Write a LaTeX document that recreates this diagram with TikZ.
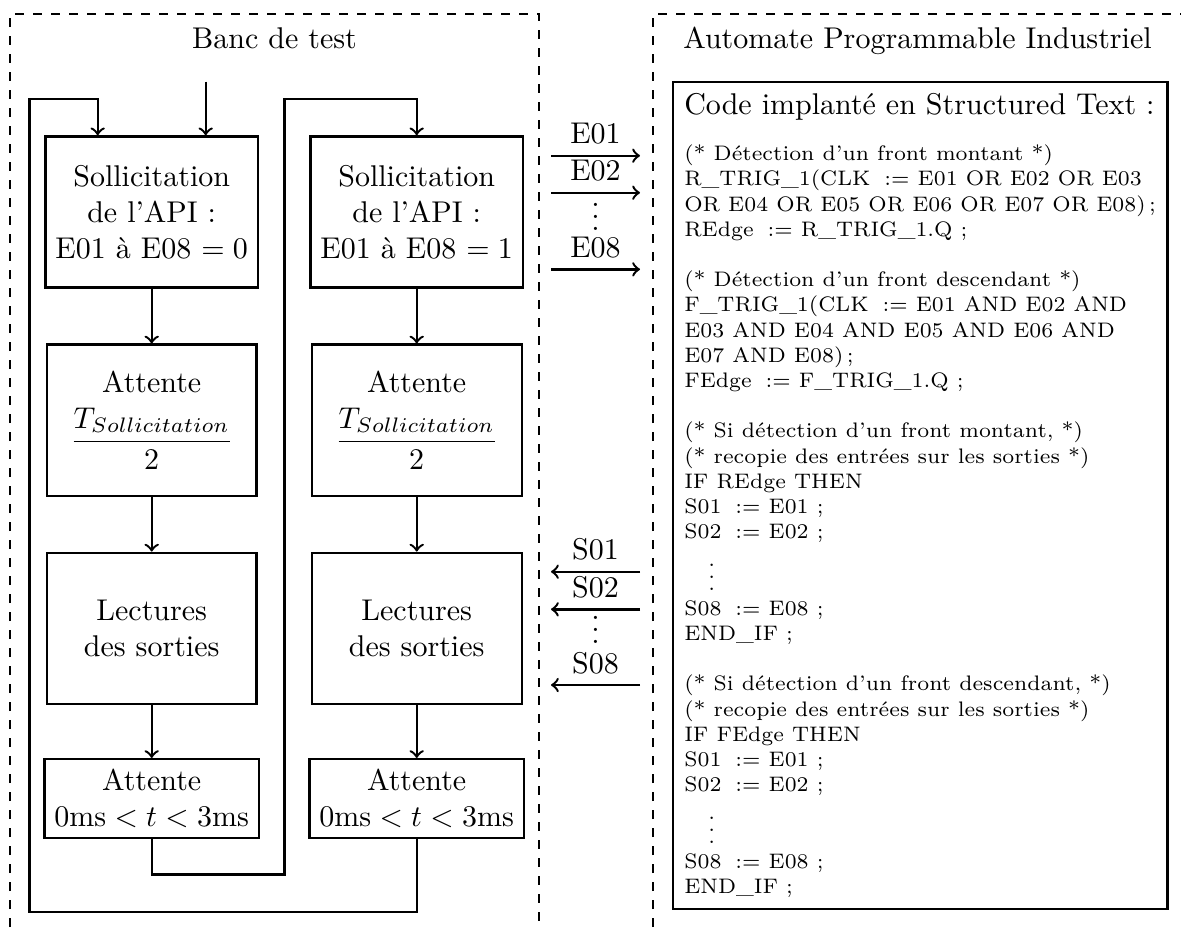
\documentclass[tikz,border=0pt]{standalone}
\usepackage{tikz}
\usepackage{amsmath}
\newcommand{\pointsv}{\vbox{\baselineskip4pt\lineskiplimit0pt\hbox{.}\hbox{.}\hbox{.}}}

\begin{document}
\begin{tikzpicture}[x=1.1715mm, y=1.1715mm,
    boite/.style={draw, thick, minimum width=24.6mm, minimum height=17.7mm, align=center},
    fleche/.style={->, thick},
    cadre/.style={dashed, semithick},
    code/.style={draw, thick, inner sep=3.8pt, align=left, font=\fontsize{7}{8.4}\selectfont}]
      \useasboundingbox (0,0) rectangle (118.1,-92.7);
      % cadres en pointilles
      \draw[cadre] (1.0,-92.7) -- (1.0,-1.4) -- (53.9,-1.4) -- (53.9,-92.7);
      \draw[cadre] (65.3,-92.7) -- (65.3,-1.4) -- (118.1,-1.4);
      \node[anchor=base] (titreBanc) at (27.45,-4.8) {Banc de test};
      \node[anchor=base] (titreAPI) at (91.75,-4.8) {Automate Programmable Industriel};
      % colonne de gauche
      \node[boite] (b1) at (15.17,-21.2) {Sollicitation\\de l'API :\\E01 à E08 $= 0$};
      \node[boite] (b2) at (15.17,-42.02) {Attente\\[4pt]$\dfrac{T_{Sollicitation}}{2}$};
      \node[boite] (b3) at (15.17,-62.83) {Lectures\\des sorties};
      \node[boite, minimum height=9.18mm] (b4) at (15.17,-79.85) {Attente\\$0\text{ms} < t < 3\text{ms}$};
      % colonne de droite
      \node[boite] (b5) at (41.67,-21.2) {Sollicitation\\de l'API :\\E01 à E08 $= 1$};
      \node[boite] (b6) at (41.67,-42.02) {Attente\\[4pt]$\dfrac{T_{Sollicitation}}{2}$};
      \node[boite] (b7) at (41.67,-62.83) {Lectures\\des sorties};
      \node[boite, minimum height=9.18mm] (b8) at (41.67,-79.85) {Attente\\$0\text{ms} < t < 3\text{ms}$};
      \draw[fleche] (b1) -- (b2);
      \draw[fleche] (b2) -- (b3);
      \draw[fleche] (b3) -- (b4);
      \draw[fleche] (b5) -- (b6);
      \draw[fleche] (b6) -- (b7);
      \draw[fleche] (b7) -- (b8);
      % bouclages
      \coordinate (depart) at (20.57,-8.17);
      \coordinate (coinA) at (2.93,-91.2);
      \coordinate (coinB) at (9.77,-9.9);
      \coordinate (coinC) at (28.43,-87.43);
      \draw[fleche] (depart) -- (depart |- b1.north);
      \draw[fleche] (b8.south) |- (coinA) |- (coinB) -- (coinB |- b1.north);
      \draw[fleche] (b4.south) |- (coinC) |- (b5.north |- coinB) -- (b5.north);
      % entrees et sorties
      \coordinate (gE01) at (55.1,-15.57);
      \coordinate (dE01) at (64.0,-15.57);
      \coordinate (gE02) at (55.1,-19.27);
      \coordinate (dE02) at (64.0,-19.27);
      \coordinate (gE08) at (55.1,-26.93);
      \coordinate (dE08) at (64.0,-26.93);
      \draw[fleche] (gE01) -- node[above] (lE01) {E01} (dE01);
      \draw[fleche] (gE02) -- node[above] (lE02) {E02} (dE02);
      \draw[fleche] (gE08) -- node[above] (lE08) {E08} (dE08);
      \node[anchor=base, inner sep=0pt] (pointsE) at (59.55,-23.0) {\pointsv};
      \coordinate (gS01) at (55.1,-57.17);
      \coordinate (dS01) at (64.0,-57.17);
      \coordinate (gS02) at (55.1,-60.93);
      \coordinate (dS02) at (64.0,-60.93);
      \coordinate (gS08) at (55.1,-68.5);
      \coordinate (dS08) at (64.0,-68.5);
      \draw[fleche] (dS01) -- node[above] (lS01) {S01} (gS01);
      \draw[fleche] (dS02) -- node[above] (lS02) {S02} (gS02);
      \draw[fleche] (dS08) -- node[above] (lS08) {S08} (gS08);
      \node[anchor=base, inner sep=0pt] (pointsS) at (59.55,-64.35) {\pointsv};
      % code de l'automate
      \node[code, anchor=north west] (ST) at (67.17,-8.07) {%
        {\normalsize Code implanté en Structured Text :}\\[7pt]
        (* Détection d'un front montant *)\\
        R\_TRIG\_1(CLK \;:= E01 OR E02 OR E03\\
        OR E04 OR E05 OR E06 OR E07 OR E08)\,;\\
        REdge \;:= R\_TRIG\_1.Q ;\\[8.4pt]
        (* Détection d'un front descendant *)\\
        F\_TRIG\_1(CLK \;:= E01 AND E02 AND\\
        E03 AND E04 AND E05 AND E06 AND\\
        E07 AND E08)\,;\\
        FEdge \;:= F\_TRIG\_1.Q ;\\[8.4pt]
        (* Si détection d'un front montant, *)\\
        (* recopie des entrées sur les sorties *)\\
        IF REdge THEN\\
        S01 \;:= E01 ;\\
        S02 \;:= E02 ;\\
        \hspace*{8pt}$\vdots$\\
        S08 \;:= E08 ;\\
        END\_IF ;\\[8.4pt]
        (* Si détection d'un front descendant, *)\\
        (* recopie des entrées sur les sorties *)\\
        IF FEdge THEN\\
        S01 \;:= E01 ;\\
        S02 \;:= E02 ;\\
        \hspace*{8pt}$\vdots$\\
        S08 \;:= E08 ;\\
        END\_IF ;};
\end{tikzpicture}
\end{document}
